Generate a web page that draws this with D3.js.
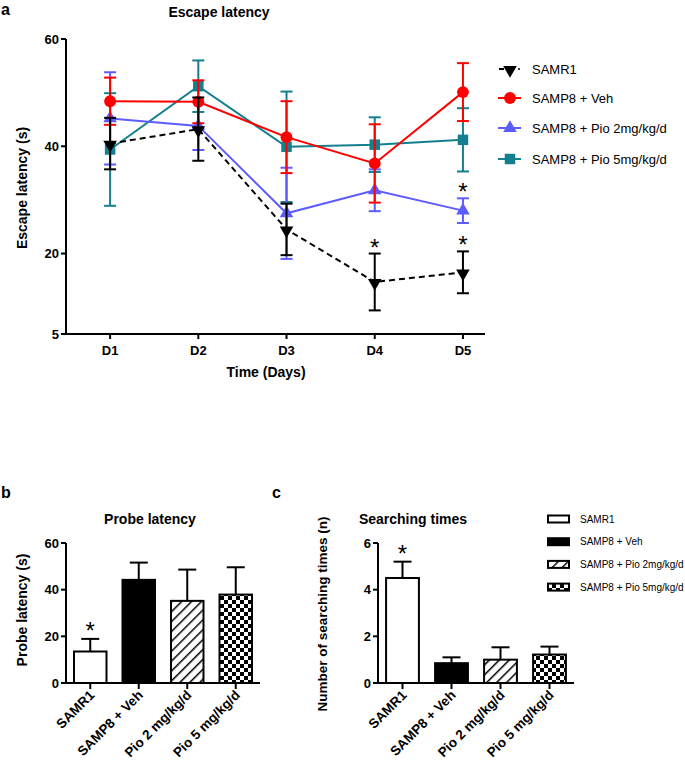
<!DOCTYPE html>
<html>
<head>
<meta charset="utf-8">
<script src="https://d3js.org/d3.v7.min.js"></script>
<style>
  body { margin: 0; background: #fff; }
  text { font-family: "Liberation Sans", Arial, sans-serif; }
  .bold { font-weight: bold; }
</style>
</head>
<body>
<div class="canvas"></div>
<script>
// ---- data ----
const days = ['D1', 'D2', 'D3', 'D4', 'D5'];
const escapeTicks = [5, 20, 40, 60];

const samr1Mean = [40.5, 43.2, 24.5, 14.7, 16.5];
const samr1Sem = [4.8, 5.9, 4.8, 5.3, 3.9];
const vehMean = [48.4, 48.3, 41.7, 36.8, 50.1];
const vehSem = [4.4, 4.0, 6.7, 7.3, 5.4];
const pio2Mean = [45.2, 43.8, 27.5, 31.8, 28.0];
const pio2Sem = [8.6, 4.5, 8.5, 3.9, 2.3];
const pio5Mean = [39.4, 51.2, 39.9, 40.3, 41.2];
const pio5Sem = [10.5, 4.8, 10.3, 5.1, 5.9];

const groups = ['SAMR1', 'SAMP8 + Veh', 'Pio 2 mg/kg/d', 'Pio 5 mg/kg/d'];
const legendNames = ['SAMR1', 'SAMP8 + Veh', 'SAMP8 + Pio 2mg/kg/d', 'SAMP8 + Pio 5mg/kg/d'];

const probeMean = [13.5, 44.2, 35.2, 37.9];
const probeSem = [5.4, 7.4, 13.4, 11.7];
const probeTicks = [0, 20, 40, 60];

const searchMean = [4.5, 0.85, 1.0, 1.22];
const searchSem = [0.7, 0.25, 0.53, 0.34];
const searchTicks = [0, 2, 4, 6];

const dims = { width: 685, height: 772, barTop: 543, barBase: 683 };

const svg = d3.select('.canvas')
  .append('svg')
  .attr('width', dims.width)
  .attr('height', dims.height);

const defs = svg.append('defs');

// hatch for Pio 2
const hatch = defs.append('pattern')
  .attr('id', 'hatch')
  .attr('patternUnits', 'userSpaceOnUse')
  .attr('width', 7).attr('height', 7)
  .attr('patternTransform', 'rotate(45)');
hatch.append('rect').attr('width', 7).attr('height', 7).attr('fill', '#fff');
hatch.append('line').attr('x1', 0).attr('y1', 0).attr('x2', 0).attr('y2', 7)
  .attr('stroke', '#000').attr('stroke-width', 3);

// checkerboard for Pio 5
const checker = defs.append('pattern')
  .attr('id', 'checker')
  .attr('patternUnits', 'userSpaceOnUse')
  .attr('width', 8).attr('height', 8);
checker.append('rect').attr('width', 8).attr('height', 8).attr('fill', '#fff');
checker.append('rect').attr('width', 4).attr('height', 4).attr('fill', '#000');
checker.append('rect').attr('x', 4).attr('y', 4).attr('width', 4).attr('height', 4).attr('fill', '#000');

const barFills = ['#fff', '#000', 'url(#hatch)', 'url(#checker)'];

const star = (g, x, y) => {
  g.append('text')
    .attr('x', x).attr('y', y + 12)
    .attr('text-anchor', 'middle')
    .attr('font-size', 24)
    .attr('fill', '#000')
    .text('*');
};

const drawYAxis = (g, y, ticks, x0) => {
  g.append('line')
    .attr('x1', x0).attr('x2', x0)
    .attr('y1', y(ticks[0])).attr('y2', y(ticks[ticks.length - 1]))
    .attr('stroke', '#000').attr('stroke-width', 2);
  const t = g.selectAll('.ytick').data(ticks).enter().append('g')
    .attr('transform', d => `translate(${x0},${y(d)})`);
  t.append('line').attr('x1', -5).attr('x2', 0).attr('stroke', '#000').attr('stroke-width', 2);
  t.append('text')
    .attr('class', 'bold')
    .attr('x', -7).attr('dy', '0.35em')
    .attr('text-anchor', 'end')
    .attr('font-size', 13)
    .text(d => d);
};

// ================= panel a =================
const a = svg.append('g');

const xA = d3.scaleLinear().domain([0.5, 5.25]).range([66, 485]);
const yA = d3.scaleLinear().domain([5, 60]).range([334, 39]);

a.append('text').attr('class', 'bold').attr('x', 1).attr('y', 15).attr('font-size', 16).text('a');
a.append('text').attr('class', 'bold').attr('x', 219).attr('y', 17)
  .attr('text-anchor', 'middle').attr('font-size', 14).text('Escape latency');

drawYAxis(a, yA, escapeTicks, 66);

a.append('line')
  .attr('x1', 66).attr('x2', 485).attr('y1', 334).attr('y2', 334)
  .attr('stroke', '#000').attr('stroke-width', 2);
const xt = a.selectAll('.xtick').data(days).enter().append('g')
  .attr('transform', (d, i) => `translate(${xA(i + 1)},334)`);
xt.append('line').attr('y1', 0).attr('y2', 5).attr('stroke', '#000').attr('stroke-width', 2);
xt.append('text').attr('class', 'bold').attr('y', 21).attr('text-anchor', 'middle')
  .attr('font-size', 13).text(d => d);

a.append('text').attr('class', 'bold')
  .attr('transform', 'translate(27,188) rotate(-90)')
  .attr('text-anchor', 'middle').attr('font-size', 14).text('Escape latency (s)');
a.append('text').attr('class', 'bold').attr('x', 266).attr('y', 377)
  .attr('text-anchor', 'middle').attr('font-size', 14).text('Time (Days)');

const series = [
  { name: legendNames[3], mean: pio5Mean, sem: pio5Sem, color: '#137f8f', marker: 'square', dash: null },
  { name: legendNames[2], mean: pio2Mean, sem: pio2Sem, color: '#5c5cff', marker: 'up', dash: null },
  { name: legendNames[1], mean: vehMean, sem: vehSem, color: '#ff0000', marker: 'circle', dash: null },
  { name: legendNames[0], mean: samr1Mean, sem: samr1Sem, color: '#000000', marker: 'down', dash: '6,4' }
];

const markerPath = {
  square: d3.symbol().type(d3.symbolSquare).size(110),
  circle: d3.symbol().type(d3.symbolCircle).size(110),
  up: d3.symbol().type(d3.symbolTriangle).size(80)
};
const drawMarker = (g, type, x, y, color) => {
  if (type === 'down') {
    g.append('path').attr('d', markerPath.up())
      .attr('transform', `translate(${x},${y + 1}) rotate(180)`).attr('fill', color);
  } else {
    g.append('path').attr('d', markerPath[type]())
      .attr('transform', `translate(${x},${y})`).attr('fill', color);
  }
};

const line = d3.line().x((d, i) => xA(i + 1)).y(d => yA(d));

series.forEach(s => {
  const g = a.append('g');
  s.mean.forEach((m, i) => {
    const x = xA(i + 1);
    const y1 = yA(m + s.sem[i]), y2 = yA(m - s.sem[i]);
    g.append('line').attr('x1', x).attr('x2', x).attr('y1', y1).attr('y2', y2)
      .attr('stroke', s.color).attr('stroke-width', 2);
    [y1, y2].forEach(yy => g.append('line').attr('x1', x - 6).attr('x2', x + 6)
      .attr('y1', yy).attr('y2', yy).attr('stroke', s.color).attr('stroke-width', 2));
  });
  g.append('path').datum(s.mean).attr('d', line)
    .attr('fill', 'none').attr('stroke', s.color).attr('stroke-width', 2)
    .attr('stroke-dasharray', s.dash);
  s.mean.forEach((m, i) => drawMarker(g, s.marker, xA(i + 1), yA(m), s.color));
});

// significance marks
star(a, xA(5), yA(pio2Mean[4] + pio2Sem[4]) - 10);
star(a, xA(4), yA(samr1Mean[3] + samr1Sem[3]) - 10);
star(a, xA(5), yA(samr1Mean[4] + samr1Sem[4]) - 10);

// legend a
const legA = a.append('g');
[...series].reverse().forEach((s, i) => {
  const ly = [69, 98, 128, 159][i];
  const lg = legA.append('g');
  if (s.dash) {
    lg.append('line').attr('x1', 499).attr('x2', 504).attr('y1', ly).attr('y2', ly)
      .attr('stroke', '#000').attr('stroke-width', 2);
    lg.append('circle').attr('cx', 519).attr('cy', ly).attr('r', 1).attr('fill', '#000');
  } else {
    lg.append('line').attr('x1', 498).attr('x2', 521).attr('y1', ly).attr('y2', ly)
      .attr('stroke', s.color).attr('stroke-width', 2);
  }
  drawMarker(lg, s.marker, 510, ly, s.color);
  lg.append('text').attr('x', 532).attr('y', ly).attr('dy', '0.35em')
    .attr('font-size', 13).text(s.name);
});

// ================= bar panels =================
const barPanel = (opt) => {
  const g = svg.append('g');
  const x = d3.scaleBand().domain(groups).range(opt.xr);
  const y = d3.scaleLinear().domain([0, opt.max]).range([dims.barBase, dims.barTop]);
  const bw = x.bandwidth() * 0.67;

  g.append('text').attr('class', 'bold').attr('x', opt.letterX).attr('y', 498)
    .attr('font-size', 16).text(opt.letter);
  g.append('text').attr('class', 'bold').attr('x', opt.titleX).attr('y', 524)
    .attr('text-anchor', 'middle').attr('font-size', 14).text(opt.title);

  // bars
  opt.mean.forEach((m, i) => {
    const cx = x(groups[i]) + x.bandwidth() / 2;
    const top = y(m + opt.sem[i]);
    g.append('line').attr('x1', cx).attr('x2', cx).attr('y1', y(m)).attr('y2', top)
      .attr('stroke', '#000').attr('stroke-width', 2);
    g.append('line').attr('x1', cx - 9).attr('x2', cx + 9).attr('y1', top).attr('y2', top)
      .attr('stroke', '#000').attr('stroke-width', 2);
    g.append('rect').attr('x', cx - bw / 2).attr('y', y(m))
      .attr('width', bw).attr('height', y(0) - y(m))
      .attr('fill', barFills[i]).attr('stroke', '#000').attr('stroke-width', 2);
  });
  star(g, x(groups[0]) + x.bandwidth() / 2, y(opt.mean[0] + opt.sem[0]) - 12);

  drawYAxis(g, y, opt.ticks, opt.xr[0]);
  g.append('line').attr('x1', opt.xr[0]).attr('x2', opt.xr[1])
    .attr('y1', dims.barBase).attr('y2', dims.barBase)
    .attr('stroke', '#000').attr('stroke-width', 2);
  const ct = g.selectAll('.ct').data(groups).enter().append('g')
    .attr('transform', d => `translate(${x(d) + x.bandwidth() / 2},${dims.barBase})`);
  ct.append('line').attr('y2', 6).attr('stroke', '#000').attr('stroke-width', 2);
  ct.append('text').attr('class', 'bold')
    .attr('transform', 'translate(5,13) rotate(-45)')
    .attr('text-anchor', 'end').attr('font-size', 13.5).text(d => d);

  g.append('text').attr('class', 'bold')
    .attr('transform', `translate(${opt.ylabX},${opt.ylabY}) rotate(-90)`)
    .attr('text-anchor', 'middle').attr('font-size', opt.ylabSize).text(opt.ylab);
  return g;
};

barPanel({
  letter: 'b', letterX: 1, title: 'Probe latency', titleX: 150,
  xr: [66, 260], max: 60, ticks: probeTicks, mean: probeMean, sem: probeSem,
  ylab: 'Probe latency (s)', ylabX: 27, ylabY: 610, ylabSize: 14
});

barPanel({
  letter: 'c', letterX: 272, title: 'Searching times', titleX: 413,
  xr: [378, 574], max: 6, ticks: searchTicks, mean: searchMean, sem: searchSem,
  ylab: 'Number of searching times (n)', ylabX: 327, ylabY: 614, ylabSize: 13.5
});

// legend c
const legC = svg.append('g');
legendNames.forEach((n, i) => {
  const ly = 519 + i * 22.7;
  legC.append('rect').attr('x', 548).attr('y', ly - 3.5).attr('width', 21).attr('height', 7)
    .attr('fill', barFills[i]).attr('stroke', '#000').attr('stroke-width', 2);
  legC.append('text').attr('x', 580).attr('y', ly).attr('dy', '0.35em')
    .attr('font-size', 10).text(n);
});
</script>
</body>
</html>
